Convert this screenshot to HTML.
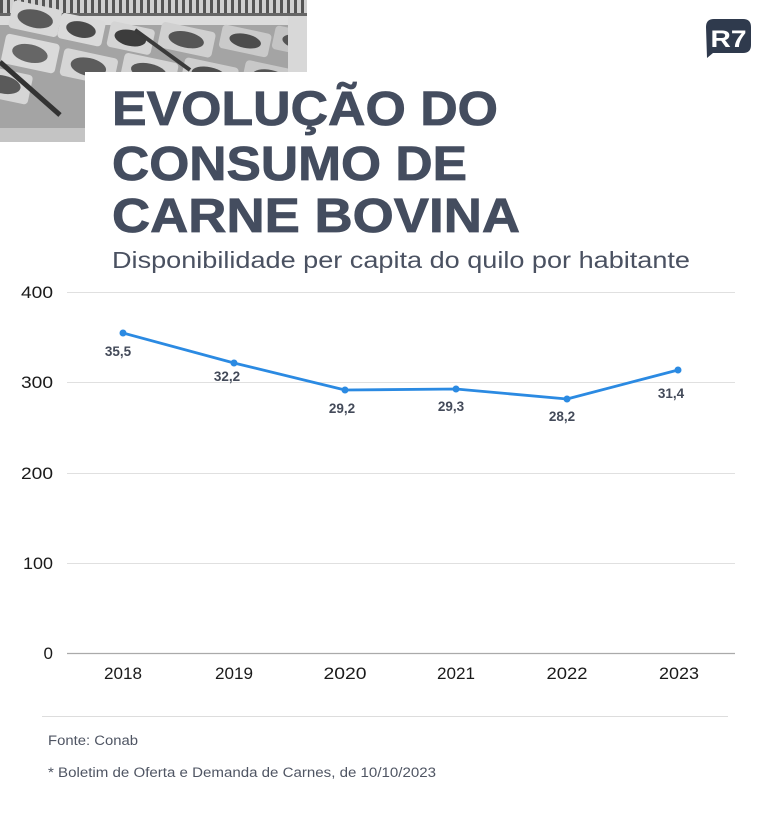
<!DOCTYPE html>
<html><head><meta charset="utf-8">
<style>
html,body{margin:0;padding:0;background:#fff;}
svg{display:block;}
text{font-family:"Liberation Sans",Arial,sans-serif;}
</style></head>
<body>
<svg width="771" height="816" viewBox="0 0 771 816" xmlns="http://www.w3.org/2000/svg">
<rect width="771" height="816" fill="#fff"/>
<!-- photo -->
<defs>
<clipPath id="ph"><rect x="0" y="0" width="307" height="142"/></clipPath>
<pattern id="grille" width="7" height="14" patternUnits="userSpaceOnUse">
<rect width="7" height="14" fill="#d0d0d0"/><rect x="0" width="3" height="14" fill="#555"/>
</pattern>
</defs>
<g clip-path="url(#ph)">
<rect x="0" y="0" width="307" height="142" fill="#a4a4a4"/>
<rect x="0" y="0" width="307" height="13" fill="url(#grille)"/>
<rect x="0" y="13" width="307" height="3" fill="#666"/>
<rect x="0" y="16" width="307" height="9" fill="#dcdcdc"/>
<!-- trays -->
<g transform="rotate(12 150 80)">
<rect x="0" y="30" width="50" height="28" rx="4" fill="#d8d8d8"/>
<ellipse cx="25" cy="44" rx="18" ry="9" fill="#5a5a5a"/>
<rect x="50" y="32" width="45" height="26" rx="4" fill="#dadada"/>
<ellipse cx="72" cy="45" rx="15" ry="8" fill="#4a4a4a"/>
<rect x="100" y="30" width="45" height="26" rx="4" fill="#d4d4d4"/>
<ellipse cx="122" cy="43" rx="16" ry="8" fill="#3c3c3c"/>
<rect x="150" y="20" width="55" height="26" rx="4" fill="#d0d0d0"/>
<ellipse cx="177" cy="33" rx="18" ry="8" fill="#555"/>
<rect x="210" y="10" width="50" height="24" rx="4" fill="#cacaca"/>
<ellipse cx="235" cy="22" rx="16" ry="7" fill="#4c4c4c"/>
<rect x="262" y="0" width="50" height="24" rx="4" fill="#c4c4c4"/>
<ellipse cx="287" cy="12" rx="16" ry="7" fill="#555"/>
<rect x="0" y="64" width="55" height="30" rx="4" fill="#dadada"/>
<ellipse cx="27" cy="79" rx="18" ry="9" fill="#666"/>
<rect x="60" y="66" width="55" height="28" rx="4" fill="#d6d6d6"/>
<ellipse cx="87" cy="80" rx="18" ry="9" fill="#5c5c5c"/>
<rect x="120" y="58" width="55" height="28" rx="4" fill="#d4d4d4"/>
<ellipse cx="147" cy="72" rx="18" ry="8" fill="#555"/>
<rect x="180" y="50" width="55" height="26" rx="4" fill="#cecece"/>
<ellipse cx="207" cy="63" rx="18" ry="8" fill="#4e4e4e"/>
<rect x="240" y="40" width="55" height="26" rx="4" fill="#c8c8c8"/>
<ellipse cx="267" cy="53" rx="18" ry="8" fill="#555"/>
<rect x="-20" y="100" width="55" height="30" rx="4" fill="#d6d6d6"/>
<ellipse cx="7" cy="115" rx="18" ry="9" fill="#5a5a5a"/>
</g>
<line x1="0" y1="62" x2="60" y2="115" stroke="#333" stroke-width="5"/>
<line x1="135" y1="30" x2="190" y2="70" stroke="#3a3a3a" stroke-width="4"/>
<rect x="0" y="128" width="85" height="14" fill="#c4c4c4"/>
<rect x="288" y="16" width="19" height="56" fill="#d8d8d8"/>
</g>
<rect x="85" y="72" width="230" height="75" fill="#fff"/>

<!-- R7 logo -->
<path d="M714 19 H743 Q751 19 751 27 V45 Q751 53 743 53 H713 L707 58 L706 27 Q706 19 714 19 Z" fill="#2f3a4d"/>
<text x="728.5" y="47" font-size="24" font-weight="bold" fill="#fff" text-anchor="middle" textLength="36" lengthAdjust="spacingAndGlyphs">R7</text>

<!-- Title -->
<g fill="#444d5f" font-weight="bold" font-size="48" stroke="#444d5f" stroke-width="0.8">
<text x="112" y="125" textLength="386" lengthAdjust="spacingAndGlyphs">EVOLUÇÃO DO</text>
<text x="112" y="180" textLength="355" lengthAdjust="spacingAndGlyphs">CONSUMO DE</text>
<text x="112" y="232" textLength="408" lengthAdjust="spacingAndGlyphs">CARNE BOVINA</text>
</g>
<text x="112" y="268" font-size="23" fill="#4a5161" textLength="578" lengthAdjust="spacingAndGlyphs">Disponibilidade per capita do quilo por habitante</text>

<!-- grid -->
<g stroke="#e0e0e0" stroke-width="1">
<line x1="67" y1="292.5" x2="735" y2="292.5"/>
<line x1="67" y1="382.5" x2="735" y2="382.5"/>
<line x1="67" y1="473.5" x2="735" y2="473.5"/>
<line x1="67" y1="563.5" x2="735" y2="563.5"/>
</g>
<line x1="67" y1="653.5" x2="735" y2="653.5" stroke="#aaa" stroke-width="1.3"/>

<g font-size="17" fill="#1a1a1a" text-anchor="end">
<text x="53" y="298" textLength="32" lengthAdjust="spacingAndGlyphs">400</text>
<text x="53" y="388" textLength="32" lengthAdjust="spacingAndGlyphs">300</text>
<text x="53" y="479" textLength="32" lengthAdjust="spacingAndGlyphs">200</text>
<text x="53" y="569" textLength="30" lengthAdjust="spacingAndGlyphs">100</text>
<text x="53" y="659">0</text>
</g>

<!-- line -->
<polyline points="123,333 234,363 345,390 456,389 567,399 678,370" fill="none" stroke="#2b8ae2" stroke-width="2.8" stroke-linejoin="round"/>
<g fill="#2b8ae2">
<circle cx="123" cy="333" r="3.5"/><circle cx="234" cy="363" r="3.5"/><circle cx="345" cy="390" r="3.5"/>
<circle cx="456" cy="389" r="3.5"/><circle cx="567" cy="399" r="3.5"/><circle cx="678" cy="370" r="3.5"/>
</g>
<g font-size="13.5" font-weight="bold" fill="#434a59" text-anchor="middle">
<text x="118" y="356">35,5</text>
<text x="227" y="381">32,2</text>
<text x="342" y="413">29,2</text>
<text x="451" y="411">29,3</text>
<text x="562" y="421">28,2</text>
<text x="671" y="398">31,4</text>
</g>

<!-- x labels -->
<g font-size="16.5" fill="#1a1a1a" text-anchor="middle">
<text x="123" y="679" textLength="38" lengthAdjust="spacingAndGlyphs">2018</text>
<text x="234" y="679" textLength="38" lengthAdjust="spacingAndGlyphs">2019</text>
<text x="345" y="679" textLength="43" lengthAdjust="spacingAndGlyphs">2020</text>
<text x="456" y="679" textLength="38" lengthAdjust="spacingAndGlyphs">2021</text>
<text x="567" y="679" textLength="41" lengthAdjust="spacingAndGlyphs">2022</text>
<text x="679" y="679" textLength="40" lengthAdjust="spacingAndGlyphs">2023</text>
</g>

<line x1="42" y1="716.5" x2="728" y2="716.5" stroke="#ddd" stroke-width="1"/>
<text x="48" y="745" font-size="13.5" fill="#4f5563" textLength="90" lengthAdjust="spacingAndGlyphs">Fonte: Conab</text>
<text x="48" y="777" font-size="13.5" fill="#4f5563" textLength="388" lengthAdjust="spacingAndGlyphs">* Boletim de Oferta e Demanda de Carnes, de 10/10/2023</text>
</svg>
</body></html>
